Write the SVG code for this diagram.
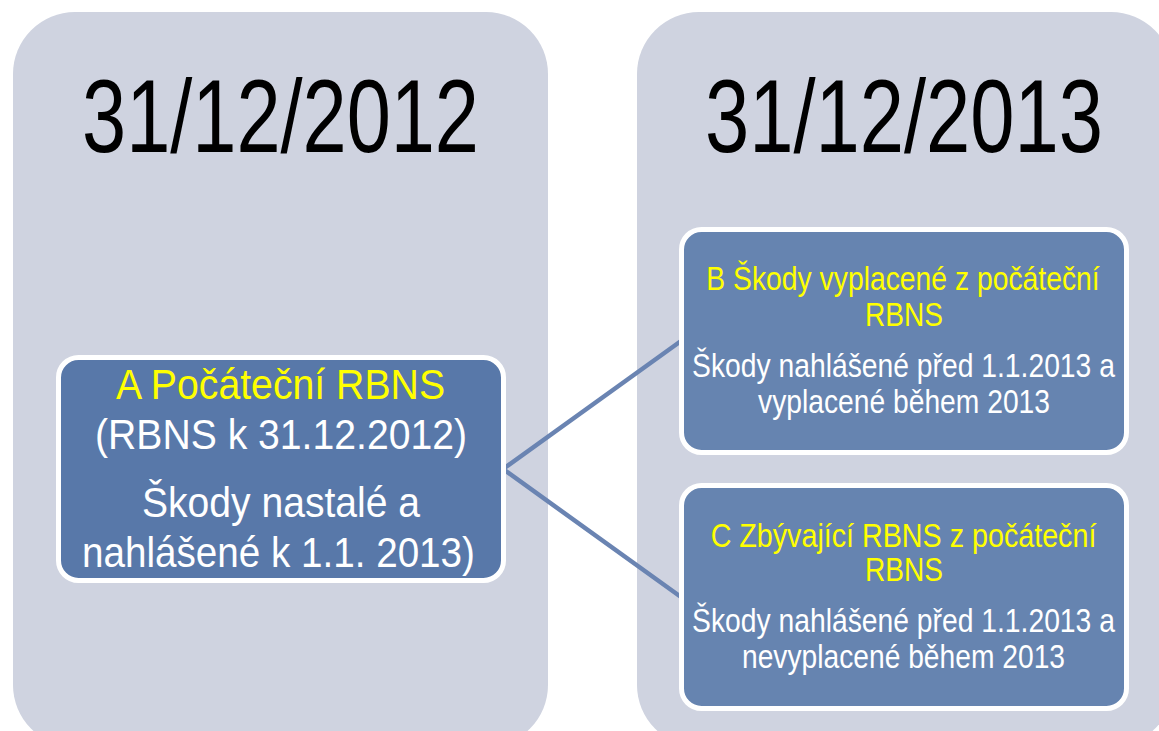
<svg xmlns="http://www.w3.org/2000/svg" width="1159" height="731" viewBox="0 0 1159 731">
<style>
.panel{fill:#cfd3e0}
.node{stroke:#ffffff;stroke-width:5}
.big{font-family:"Liberation Sans",Arial,sans-serif;font-size:103px;fill:#000000;text-anchor:middle}
.ta{font-family:"Liberation Sans",Arial,sans-serif;font-size:43px;text-anchor:middle}
.tb{font-family:"Liberation Sans",Arial,sans-serif;font-size:32.5px;text-anchor:middle}
.y{fill:#ffff00}
.w{fill:#ffffff}
.conn{stroke:#6a84b2;stroke-width:4.5;fill:none}
</style>
<rect width="1159" height="731" fill="#ffffff"/>
<g id="panel-2012">
<rect class="panel" x="13" y="12" width="535" height="735" rx="62" ry="62"/>
<text class="big" transform="translate(280.5,152) scale(0.770,1)" x="0" y="0">31/12/2012</text>
</g>
<g id="panel-2013">
<rect class="panel" x="637" y="12" width="536" height="735" rx="62" ry="62"/>
<text class="big" transform="translate(904,152) scale(0.772,1)" x="0" y="0">31/12/2013</text>
</g>
<g id="connectors">
<polyline class="conn" points="681,341 503,469 681,597"/>
</g>
<g id="node-A">
<rect class="node" x="58.5" y="357.5" width="445" height="223" rx="20" ry="20" fill="#5878a9"/>
<text class="ta y" transform="translate(280.5,399) scale(0.912,1)" x="0" y="0">A Počáteční RBNS</text>
<text class="ta w" transform="translate(281,449) scale(0.910,1)" x="0" y="0">(RBNS k 31.12.2012)</text>
<text class="ta w" transform="translate(281,517) scale(0.909,1)" x="0" y="0">Škody nastalé a</text>
<text class="ta w" transform="translate(278.5,567) scale(0.898,1)" x="0" y="0">nahlášené k 1.1. 2013)</text>
</g>
<g id="node-B">
<rect class="node" x="681.5" y="229.5" width="445" height="223" rx="20" ry="20" fill="#6684b0"/>
<text class="tb y" transform="translate(903,290) scale(0.871,1)" x="0" y="0">B Škody vyplacené z počáteční</text>
<text class="tb y" transform="translate(904,326) scale(0.864,1)" x="0" y="0">RBNS</text>
<text class="tb w" transform="translate(903.5,377) scale(0.870,1)" x="0" y="0">Škody nahlášené před 1.1.2013 a</text>
<text class="tb w" transform="translate(904,413) scale(0.869,1)" x="0" y="0">vyplacené během 2013</text>
</g>
<g id="node-C">
<rect class="node" x="681.5" y="485.5" width="445" height="223" rx="20" ry="20" fill="#6684b0"/>
<text class="tb y" transform="translate(903.5,547) scale(0.883,1)" x="0" y="0">C Zbývající RBNS z počáteční</text>
<text class="tb y" transform="translate(904,581) scale(0.864,1)" x="0" y="0">RBNS</text>
<text class="tb w" transform="translate(903.5,632) scale(0.870,1)" x="0" y="0">Škody nahlášené před 1.1.2013 a</text>
<text class="tb w" transform="translate(903.5,668) scale(0.868,1)" x="0" y="0">nevyplacené během 2013</text>
</g>
</svg>
